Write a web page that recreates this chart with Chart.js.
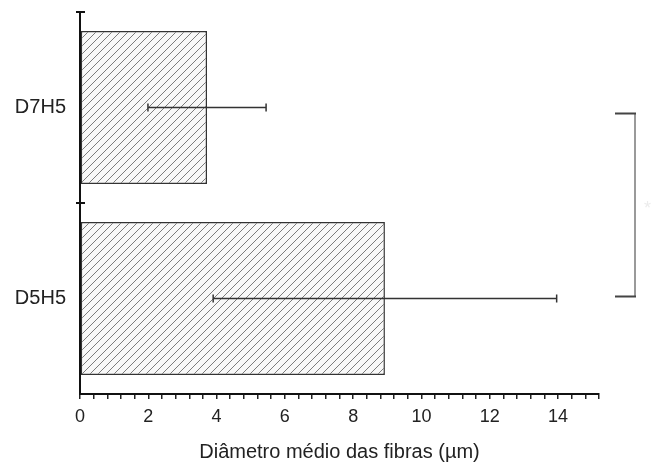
<!DOCTYPE html>
<html>
<head>
<meta charset="utf-8">
<script src="https://cdn.jsdelivr.net/npm/chart.js@4/dist/chart.umd.min.js"></script>
<style>
  html, body { margin: 0; padding: 0; background: #fff; }
  #wrap { width: 652px; height: 468px; }
</style>
</head>
<body>
<div id="wrap"><canvas id="chart"></canvas></div>
<script>
// data
const categories   = ['D7H5', 'D5H5'];
const meanDiameter = [3.72, 8.93];
const sdDiameter   = [1.73, 5.03];
const xTickStep    = 0.4;   // minor ticks, labels every 2
const xMax         = 15.2;
const sigMark      = '*';

Chart.defaults.font.family = "'Liberation Sans', Arial, sans-serif";
Chart.defaults.color = '#222';

// diagonal hatch for the bars
function makeHatch() {
  const c = document.createElement('canvas');
  c.width = 8; c.height = 8;
  const g = c.getContext('2d');
  g.fillStyle = '#f8f8f8';
  g.fillRect(0, 0, 8, 8);
  g.strokeStyle = '#e0e0e0';
  g.lineWidth = 1;
  g.beginPath();
  g.moveTo(-4, 4); g.lineTo(4, -4);
  g.moveTo(4, 12); g.lineTo(12, 4);
  g.stroke();
  g.strokeStyle = '#7c7c7c';
  g.beginPath();
  g.moveTo(0, 8); g.lineTo(8, 0);
  g.moveTo(-1, 1); g.lineTo(1, -1);
  g.moveTo(7, 9); g.lineTo(9, 7);
  g.stroke();
  return g.createPattern(c, 'repeat');
}

// error bars, y-axis ticks and the significance bracket
const extras = {
  id: 'extras',
  afterDatasetsDraw(chart) {
    const { ctx, scales: { x, y } } = chart;
    ctx.save();
    ctx.strokeStyle = '#333';
    ctx.lineWidth = 1.5;
    meanDiameter.forEach((m, i) => {
      const py = y.getPixelForValue(i);
      const x0 = x.getPixelForValue(m - sdDiameter[i]);
      const x1 = x.getPixelForValue(m + sdDiameter[i]);
      ctx.beginPath();
      ctx.moveTo(x0, py); ctx.lineTo(x1, py);
      ctx.moveTo(x0, py - 4); ctx.lineTo(x0, py + 4);
      ctx.moveTo(x1, py - 4); ctx.lineTo(x1, py + 4);
      ctx.stroke();
    });

    // category boundary ticks crossing the y axis
    const p0 = y.getPixelForValue(0), p1 = y.getPixelForValue(1);
    const half = (p1 - p0) / 2;
    const ax = x.left;
    ctx.strokeStyle = '#111';
    ctx.lineWidth = 2;
    ctx.beginPath();
    for (let i = 0; i <= categories.length - 1; i++) {
      const py = y.getPixelForValue(i) - half;
      ctx.moveTo(ax - 4, py); ctx.lineTo(ax + 5, py);
    }
    ctx.stroke();

    // bracket between the two groups
    const bx = chart.width - 17;
    const top = p0 + 6, bot = p1 - 2;
    ctx.strokeStyle = '#9a9a9a';
    ctx.lineWidth = 2;
    ctx.beginPath();
    ctx.moveTo(bx, top); ctx.lineTo(bx, bot);
    ctx.stroke();
    ctx.strokeStyle = '#444';
    ctx.beginPath();
    ctx.moveTo(bx - 20, top); ctx.lineTo(bx + 1, top);
    ctx.moveTo(bx - 20, bot); ctx.lineTo(bx + 1, bot);
    ctx.stroke();
    ctx.fillStyle = '#ececec';
    ctx.font = "18px 'Liberation Sans', Arial, sans-serif";
    ctx.textAlign = 'left';
    ctx.textBaseline = 'middle';
    ctx.fillText(sigMark, bx + 9, (top + bot) / 2 + 4);
    ctx.restore();
  }
};

new Chart(document.getElementById('chart'), {
  type: 'bar',
  data: {
    labels: categories,
    datasets: [{
      data: meanDiameter,
      backgroundColor: makeHatch(),
      borderColor: '#333',
      borderWidth: 1.5,
      borderSkipped: false,
      barPercentage: 0.8,
      categoryPercentage: 1.0,
    }],
  },
  options: {
    indexAxis: 'y',
    responsive: true,
    maintainAspectRatio: false,
    animation: false,
    layout: { padding: { top: 12, right: 53, left: 0, bottom: 0 } },
    plugins: { legend: { display: false }, tooltip: { enabled: false } },
    scales: {
      x: {
        min: 0, max: xMax,
        afterFit: s => { s.height = 74; },
        border: { display: true, color: '#111', width: 2 },
        grid: { drawOnChartArea: false, tickLength: 5, color: '#222', lineWidth: 1.5 },
        ticks: {
          stepSize: xTickStep, autoSkip: false, maxRotation: 0, padding: 7,
          font: { size: 18 }, color: '#222',
          callback: v => Math.abs(v / 2 - Math.round(v / 2)) < 1e-6 ? String(Math.round(v)) : '',
        },
        title: {
          display: true, text: 'Diâmetro médio das fibras (µm)',
          font: { size: 20 }, color: '#222', padding: { top: 6 },
        },
      },
      y: {
        afterFit: s => { s.width = 80; s.paddingTop = 0; s.paddingBottom = 0; },
        border: { display: true, color: '#111', width: 2 },
        grid: { display: false },
        ticks: { font: { size: 20 }, color: '#222', padding: 6 },
      },
    },
  },
  plugins: [extras],
});
</script>
</body>
</html>
